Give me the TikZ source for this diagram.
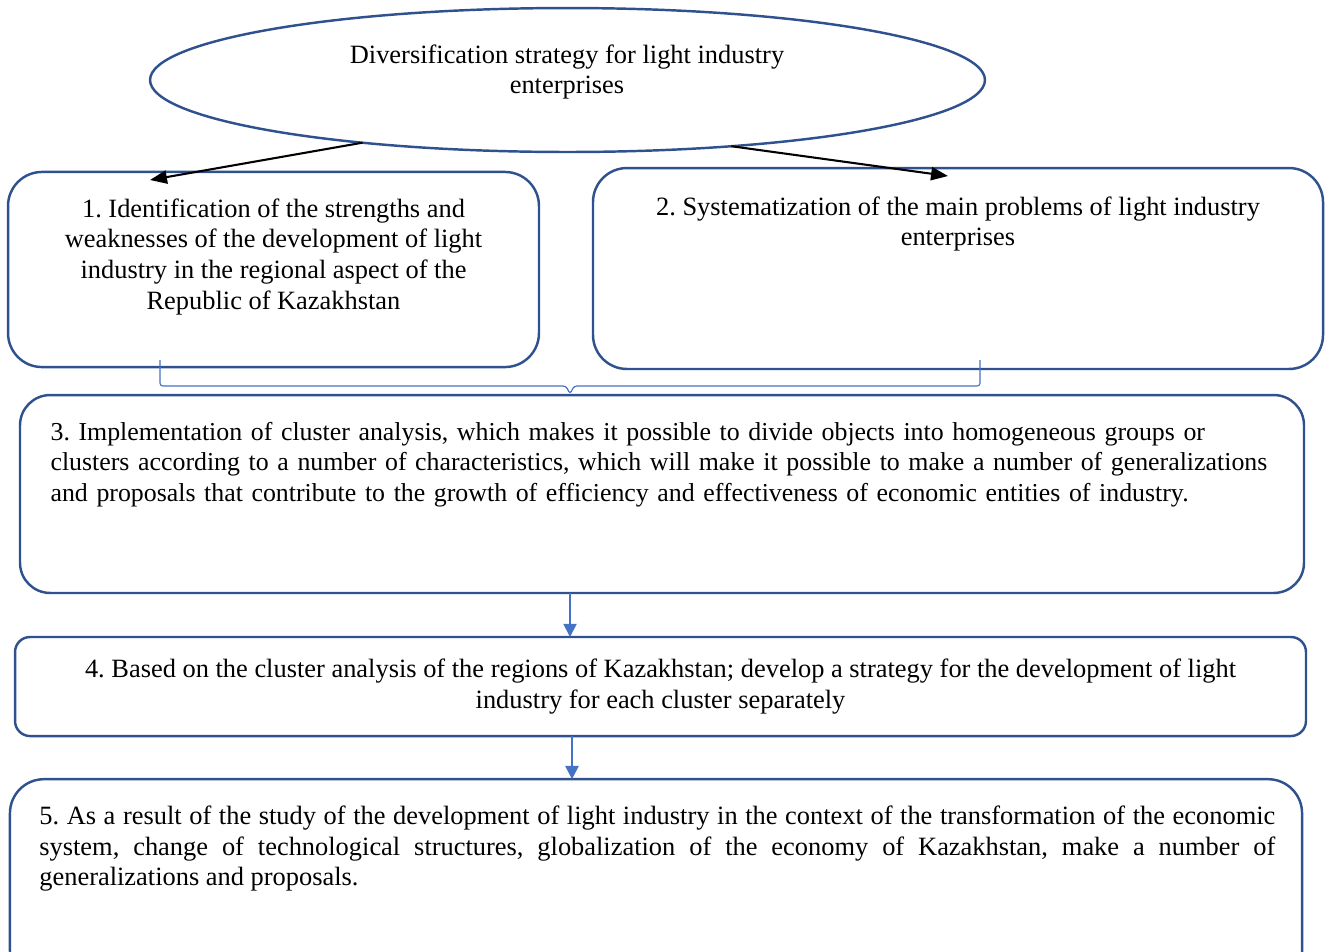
\documentclass[tikz,border=0pt]{standalone}
\usepackage{fontspec}
\setmainfont{Liberation Serif}
\usepackage{tikz}
\usetikzlibrary{shapes.geometric,arrows.meta,positioning,calc}
\definecolor{boxblue}{RGB}{47,82,143}
\definecolor{lightblue}{RGB}{68,114,196}
\frenchspacing

\begin{document}
\begin{tikzpicture}[x=0.53pt,y=-0.53pt]

    \tikzstyle{frame}=[draw=boxblue, line width=1.3pt, inner sep=0pt, outer sep=0pt]
    \tikzstyle{box}=[frame, rectangle, rounded corners=18pt]
    \tikzstyle{lbl}=[inner sep=0pt, font=\fontsize{14}{16.2}\selectfont]
    \tikzstyle{link}=[black, line width=1.1pt, -{Triangle[length=9pt,width=7pt]}]
    \tikzstyle{flow}=[lightblue, line width=1pt, -{Triangle[length=7pt,width=7pt]}]
    \tikzstyle{bracket}=[lightblue, line width=0.6pt, rounded corners=1.5pt]

    \useasboundingbox (0,0) rectangle (1325,951);

    % goal and the five steps
    \node[frame, ellipse, minimum width=442.5pt, minimum height=76.3pt] (goal) at (567.5,80) {};
    \node[box, minimum width=281.4pt, minimum height=103.4pt] (b1) at (273.5,269.5) {};
    \node[box, minimum width=386.9pt, minimum height=106.5pt] (b2) at (958,268.5) {};
    \node[box, rounded corners=16pt, minimum width=680.5pt, minimum height=104.9pt] (b3) at (662,494) {};
    \node[box, rounded corners=8pt, minimum width=684.2pt, minimum height=52.5pt] (b4) at (660.5,686.5) {};
    \node[box, minimum width=684.8pt, minimum height=109pt] (b5) at (656,882) {};

    % texts
    \node[lbl, align=center] (tgoal) at (567,72) {Diversification strategy for light industry\\enterprises};
    \node[lbl, align=center, anchor=north, below=14pt of b1.north] (t1) {1. Identification of the strengths and\\weaknesses of the development of light\\industry in the regional aspect of the\\Republic of Kazakhstan};
    \node[lbl, align=center, anchor=north, below=15pt of b2.north] (t2) {2. Systematization of the main problems of light industry\\enterprises};
    \node[lbl, font=\fontsize{13.7}{16.2}\selectfont, align=left, text width=660pt, anchor=north west, below right=14pt and 16pt of b3.north west] (t3) {3. Implementation of cluster analysis, which makes it possible to divide objects into homogeneous groups or\\clusters according to a number of characteristics, which will make it possible to make a number of generalizations\\and proposals that contribute to the growth of efficiency and effectiveness of economic entities of industry.};
    \node[lbl, align=center, anchor=north, below=11.5pt of b4.north] (t4) {4. Based on the cluster analysis of the regions of Kazakhstan; develop a strategy for the development of light\\industry for each cluster separately};
    \node[lbl, align=justify, text width=655pt, anchor=north west, below right=14pt and 15.4pt of b5.north west] (t5) {5. As a result of the study of the development of light industry in the context of the transformation of the economic\linebreak system, change of technological structures, globalization of the economy of Kazakhstan, make a number of\linebreak generalizations and proposals.};

    % arrows
    \coordinate (e1) at (150,180);
    \coordinate (e2) at (948,176);
    \coordinate (m34) at (570,615);
    \coordinate (m45) at (572,758);
    \draw[link] (goal.197.5) -- (e1);
    \draw[link] (goal.-22.8) -- (e2);
    \draw[flow] (b3.south -| m34) -- (b4.north -| m34);
    \draw[flow] (b4.south -| m45) -- (b5.north -| m45);

    % bracket joining 1 and 2
    \draw[bracket] (160,360) -- (160,386) -- (566,386) -- (570,394) -- (574,386) -- (980,386) -- (980,360);

\end{tikzpicture}
\end{document}
